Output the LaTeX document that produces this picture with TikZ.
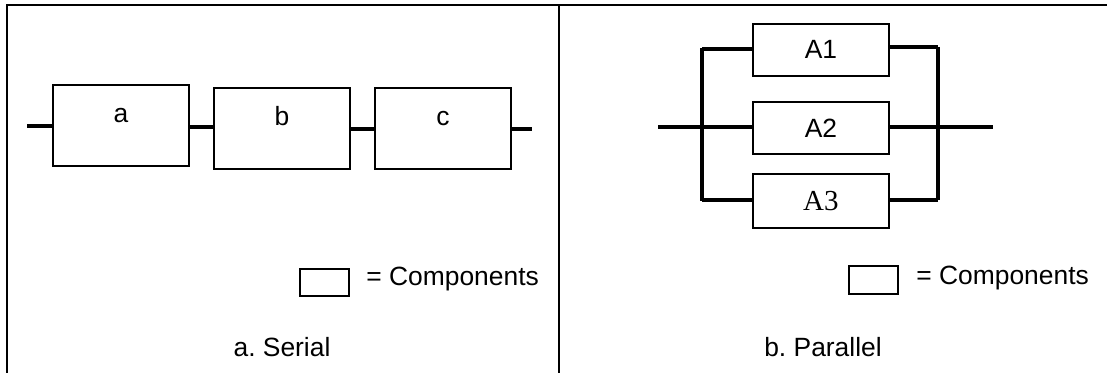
\documentclass[tikz,border=0pt]{standalone}
\usepackage{fontspec}
\setmainfont{Liberation Sans}
\newfontfamily\timesfont{Liberation Serif}
\begin{document}
\begin{tikzpicture}[x=0.5pt,y=-0.5pt,
  comp/.style={draw,line width=0.9pt,inner sep=0pt,minimum width=68pt,font=\fontsize{13.2}{15}\selectfont},
  sbox/.style={comp,text height=19pt,text depth=21.5pt},
  wire/.style={line width=2pt},
  frameline/.style={line width=1.2pt},
  lbl/.style={font=\fontsize{13.2}{15}\selectfont,inner sep=0pt}]
\useasboundingbox (0,0) rectangle (1107,373);
% frame
\draw[frameline] (7,373) -- (7,5) -- (1107,5);
\draw[frameline] (559,5) -- (559,373);
% serial
\node[sbox,anchor=north west] (a) at (52,84) {a};
\node[sbox,anchor=north west] (b) at (213,87) {b};
\node[sbox,anchor=north west] (c) at (374,87) {c};
\coordinate (sin) at (27,126);
\coordinate (sout) at (532,129);
\draw[wire] (sin) -- (sin -| a.west);
\draw[wire] (a.east |- 0,127) -- (b.west |- 0,127);
\draw[wire] (b.east |- 0,129) -- (c.west |- 0,129);
\draw[wire] (c.east |- sout) -- (sout);
\node[draw,line width=0.9pt,minimum width=24.5pt,minimum height=13.5pt,inner sep=0pt,anchor=north west] (leg1) at (299,268) {};
\node[lbl,anchor=west] (legt1) at (366,279) {= Components};
\node[lbl] (cap1) at (282,347) {a.\ Serial};
% parallel
\node[comp,minimum height=26pt,anchor=north west] (A1) at (752,23) {A1};
\node[comp,minimum height=26pt,anchor=north west] (A2) at (752,101) {A2};
\node[comp,minimum height=27pt,anchor=north west] (A3) at (752,173) {\timesfont\fontsize{14.5}{16}\selectfont A3};
\coordinate (lt) at (702,48);
\coordinate (lb) at (702,201);
\coordinate (rt) at (938,47);
\coordinate (rb) at (938,200);
\coordinate (pin) at (658,127);
\coordinate (pout) at (993,127);
\draw[wire] (lt) -- (lb);
\draw[wire] (rt) -- (rb);
\draw[wire] (lt |- 0,49) -- (A1.west |- 0,49);
\draw[wire] (A1.east |- rt) -- (rt);
\draw[wire] (pin) -- (A2.west |- pin);
\draw[wire] (A2.east |- pout) -- (pout);
\draw[wire] (lb |- 0,200) -- (A3.west |- 0,200);
\draw[wire] (A3.east |- rb) -- (rb);
\node[draw,line width=0.9pt,minimum width=24.5pt,minimum height=14pt,inner sep=0pt,anchor=north west] (leg2) at (848,265) {};
\node[lbl,anchor=west] (legt2) at (916,278) {= Components};
\node[lbl] (cap2) at (823,347) {b.\ Parallel};
\end{tikzpicture}
\end{document}
